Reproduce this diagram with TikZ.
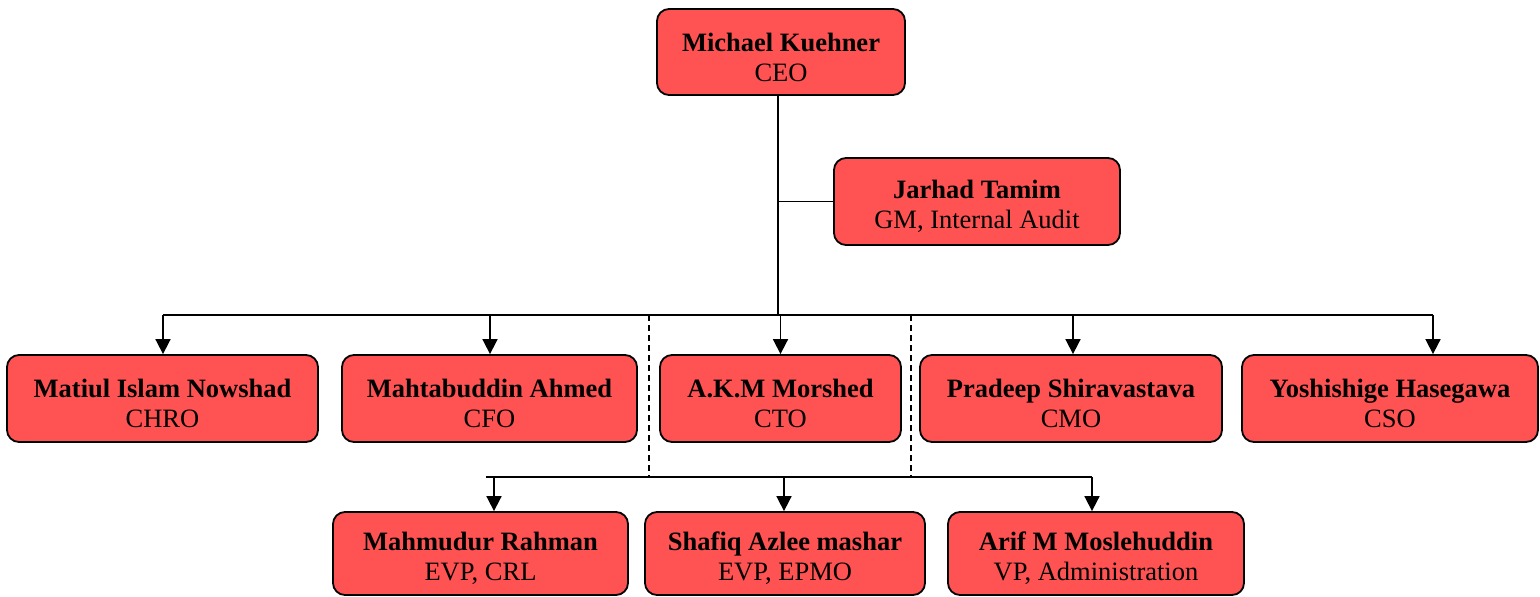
\documentclass[tikz,border=0pt]{standalone}
\usepackage{fontspec}
\setmainfont{Liberation Serif}
\usetikzlibrary{arrows.meta}
\definecolor{boxred}{RGB}{255,82,82}
\newcommand{\toplead}{\rule{0pt}{29pt}}
\tikzset{
  orgbox/.style={draw=black, line width=1.8pt, fill=boxred, rounded corners=12pt,
    align=center, inner sep=0pt, font=\fontsize{26.5}{30}\selectfont},
  wire/.style={draw=black, line width=1.7pt},
  arrowwire/.style={wire, -{Triangle[length=15pt,width=15pt]}},
  dashwire/.style={draw=black, line width=1.3pt, dashed, dash pattern=on 6pt off 4pt}
}
\begin{document}
\begin{tikzpicture}[x=1pt,y=-1pt]
\useasboundingbox (0,0) rectangle (1540,597);
% nodes
\node[orgbox, minimum width=248pt, minimum height=86pt] (ceo) at (781,52) {\toplead\textbf{Michael Kuehner}\\CEO};
\node[orgbox, minimum width=286pt, minimum height=87pt] (gm) at (977,201.5) {\toplead\textbf{Jarhad Tamim}\\GM, Internal Audit};
\node[orgbox, minimum width=311pt, minimum height=87pt] (chro) at (162.5,398.5) {\toplead\textbf{Matiul Islam Nowshad}\\CHRO};
\node[orgbox, minimum width=295pt, minimum height=87pt] (cfo) at (489.5,398.5) {\toplead\textbf{Mahtabuddin Ahmed}\\CFO};
\node[orgbox, minimum width=241pt, minimum height=87pt] (cto) at (780.5,398.5) {\toplead\textbf{A.K.M Morshed}\\CTO};
\node[orgbox, minimum width=302pt, minimum height=87pt] (cmo) at (1071,398.5) {\toplead\textbf{Pradeep Shiravastava}\\CMO};
\node[orgbox, minimum width=296pt, minimum height=87pt] (cso) at (1390,398.5) {\toplead\textbf{Yoshishige Hasegawa}\\CSO};
\node[orgbox, minimum width=295pt, minimum height=83pt] (crl) at (480.5,553.5) {\toplead\textbf{Mahmudur Rahman}\\EVP, CRL};
\node[orgbox, minimum width=280pt, minimum height=83pt] (epmo) at (785,553.5) {\toplead\textbf{Shafiq Azlee mashar}\\EVP, EPMO};
\node[orgbox, minimum width=296pt, minimum height=83pt] (adm) at (1096,553.5) {\toplead\textbf{Arif M Moslehuddin}\\VP, Administration};
% coordinates
\coordinate (trunktop) at (778,95);
\coordinate (gmjoin) at (778,201.5);
\coordinate (busmid) at (778,315);
\coordinate (busleft) at (163,315);
\coordinate (busright) at (1433,315);
\coordinate (buscfo) at (490,315);
\coordinate (buscto) at (780.5,315);
\coordinate (buscmo) at (1073,315);
\coordinate (dashA) at (649,315);
\coordinate (dashB) at (911,315);
\coordinate (lowA) at (649,477);
\coordinate (lowB) at (911,477);
\coordinate (lowleft) at (486,477);
\coordinate (lowcrl) at (494,477);
\coordinate (lowepmo) at (784,477);
\coordinate (lowright) at (1092,477);
% connectors
\draw[wire] (trunktop) -- (busmid);
\draw[wire] (gmjoin) -- (gm.west);
\draw[wire] (busleft) -- (busright);
\draw[arrowwire] (busleft) -- (chro.north -| busleft);
\draw[arrowwire] (buscfo) -- (cfo.north -| buscfo);
\draw[arrowwire] (buscto) -- (cto.north -| buscto);
\draw[arrowwire] (buscmo) -- (cmo.north -| buscmo);
\draw[arrowwire] (busright) -- (cso.north -| busright);
\draw[dashwire] (dashA) -- (lowA);
\draw[dashwire] (dashB) -- (lowB);
\draw[wire] (lowleft) -- (lowright);
\draw[arrowwire] (lowcrl) -- (crl.north -| lowcrl);
\draw[arrowwire] (lowepmo) -- (epmo.north -| lowepmo);
\draw[arrowwire] (lowright) -- (adm.north -| lowright);
\end{tikzpicture}
\end{document}
